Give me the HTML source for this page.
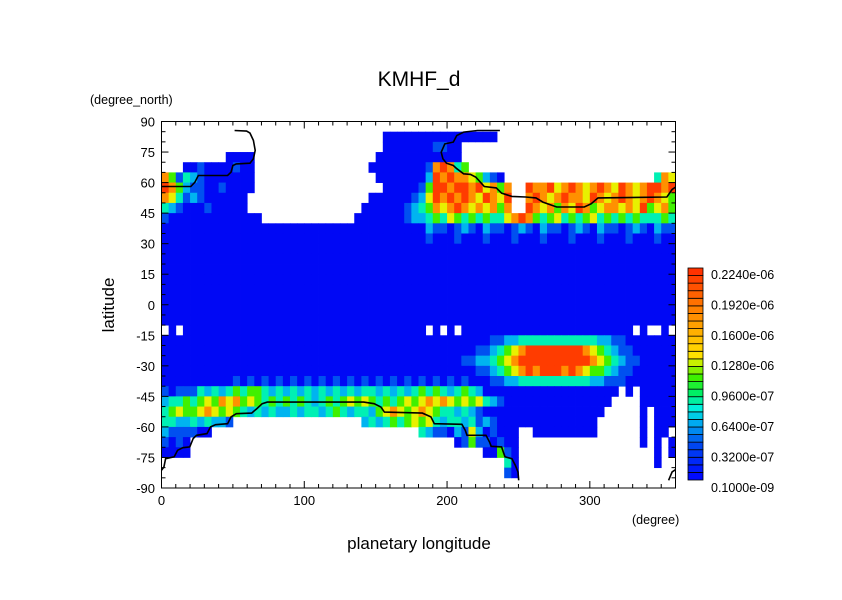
<!DOCTYPE html>
<html><head><meta charset="utf-8"><style>
html,body{margin:0;padding:0;background:#fff;}
svg text{font-family:"Liberation Sans",sans-serif;fill:#000;}
</style></head><body>
<svg id="chart" width="842" height="595" viewBox="0 0 842 595" xmlns="http://www.w3.org/2000/svg">
<rect width="842" height="595" fill="#fff"/>
<g id="heat"></g>
<g id="lines"></g>
<g id="axes"></g>
<g id="cbar"></g>
<text x="419" y="86" font-size="21" text-anchor="middle">KMHF_d</text>
<text x="90" y="104" font-size="12.5">(degree_north)</text>
<text transform="translate(114,305) rotate(-90)" font-size="17" text-anchor="middle">latitude</text>
<text x="632" y="524" font-size="12.5">(degree)</text>
<text x="419" y="549" font-size="17" text-anchor="middle">planetary longitude</text>
</svg>
<script>
// grid rows from lat 90 (top) to -90, 5 deg each; columns lon 0..360, 5 deg each
// '.' = missing, 0..7 = color level
const rowsData = [
'.'.repeat(72),
'.'.repeat(31)+'0'.repeat(16)+'.'.repeat(25),
'.'.repeat(31)+'00000001100'+'.'.repeat(30),
'.'.repeat(9)+'0000'+'.'.repeat(17)+'0'.repeat(12)+'.'.repeat(30),
'...'+'0010000100'+'.'.repeat(16)+'00000000'+'16763'+'4'+'.'.repeat(29),
'641'+'3210000000'+'.'.repeat(17)+'0000000'+'2'+'7676'+'654'+'210'+'.'.repeat(21)+'365',
'764'+'2110010'+'000'+'.'.repeat(18)+'000001'+'4'+'7767'+'767564'+'6..76'+'6756765676576567'+'767',
'653'+'1210000'+'00'+'.'.repeat(17)+'00'+'000012'+'57676765765'+'7'+'..6'+'76567665765676567'+'654',
'321'+'000100000'+'.'.repeat(16)+'000'+'000123'+'46567656564'+'6'+'..'+'7'+'65646576456656574'+'564',
'100000000000'+'00'+'.'.repeat(13)+'0'+'000000122'+'34354343433'+'5'+'676'+'43453434534343433'+'343',
'0'.repeat(37)+'21101210211012102110121021101210211',
'0'.repeat(37)+'10001000100010001000100010001000100',
'0'.repeat(72),
'0'.repeat(72),
'0'.repeat(72),
'0'.repeat(72),
'0'.repeat(72),
'0'.repeat(72),
'0'.repeat(72),
'0'.repeat(72),
'.0.0'+'0'.repeat(33)+'.0.0.'+'0'.repeat(24)+'.0..0.',
'0'.repeat(46)+'1122333333333332211'+'0'.repeat(7),
'0'.repeat(44)+'11'+'2345677777777654321'+'1000000',
'0'.repeat(42)+'1122'+'3456777777777765432'+'110'+'0000',
'0'.repeat(44)+'11'+'2345676777676544321'+'10'+'00000',
'0'.repeat(10)+'1010101010101010101010101010101010'+'00'+'1122333333333322111'+'0'.repeat(7),
'1011'+'13232343443232323232323233232323434323432'+'0'.repeat(18)+'0.0.0'+'0000',
'2334'+'34546564543434343234345454343454565654545'+'321'+'0'.repeat(14)+'0....0'+'0000',
'3454'+'4565454323'+'23223233234323'+'324565456543'+'32321'+'0'.repeat(17)+'.....'+'0.000',
'3322'+'323221'+'.'.repeat(18)+'23234345'+'45323'+'3231'+'21000'+'0'.repeat(11)+'......'+'0.000',
'2111'+'100'+'.'.repeat(29)+'32110'+'2152'+'010'+'00'+'..'+'0'.repeat(9)+'......'+'0.00.',
'1010'+'.'.repeat(37)+'0141'+'101'+'00'+'.'.repeat(17)+'0.0.0',
'0000'+'.'.repeat(41)+'004'+'10'+'.'.repeat(18)+'.0.0',
'.'.repeat(48)+'30'+'.'.repeat(18)+'.0..',
'.'.repeat(48)+'10'+'.'.repeat(22),
'.'.repeat(72)
];
// contour lines (lon, lat)
const northLon1 = [0,20.5,23.4,25.8,46.3,48.7,50,52.4,62,64.4,65.6,64.4,62,59.6,51.2];
const northLat1 = [58.1,58.1,60.2,63.5,63.5,65.1,68.4,69.2,69.5,71.7,75.8,80.7,84.3,85.3,85.6];
const northLon2 = [360,357.6,354,305.7,300.9,296.1,276.8,267.1,262.3,255,245.4,238.2,234.5,226.1,220.1,216.4,211.6,206.8,204.4,199.6,197.1,195.9,198.4,204.4,206.8,211.6,221.3,237];
const northLat2 = [57.8,56.6,52.9,52.5,49.6,48,48,50.4,52.5,52.9,53.2,54.8,57.4,58.1,62.7,64,64.3,66.8,68.4,69.5,71.7,74.9,79,79.9,83.1,84.8,85.6,85.6];
const southLon1 = [0,1.7,2.9,8.9,11.3,15,19.8,22.2,24.6,31.9,34.3,37.9,46.3,48.7,52.4,63.2,66.8,70.5,74.1,141.6,148.9,153.7,156.1,182.7,188.7,191.1,210.4,212.8,214,227.3,229.7,230.9,238.2,239.4,240.6,245.4,247.8,249.7,250.2];
const southLat1 = [-81.3,-79.7,-75.6,-74.7,-71.5,-70.2,-69.8,-65.7,-64.1,-63.3,-60,-58.9,-58.4,-55.1,-53.5,-53.2,-51,-48.6,-47.8,-47.8,-48.6,-50.2,-52.7,-53.2,-55.1,-58.4,-58.7,-61.7,-64.1,-64.1,-67.4,-69.5,-69.8,-72.3,-74.7,-75.6,-78.8,-82.1,-86.2];
const southLon2 = [355.2,357.6,360];
const southLat2 = [-86.2,-82.1,-81];
const xTicks = [0,100,200,300];
const yTicks = [90,75,60,45,30,15,0,-15,-30,-45,-60,-75,-90];
const cbarLabels = ['0.2240e-06','0.1920e-06','0.1600e-06','0.1280e-06','0.9600e-07','0.6400e-07','0.3200e-07','0.1000e-09'];

const NS='http://www.w3.org/2000/svg';
const X0=161.5, X1=675.5, Y0=121.5, Y1=488;
const xs = lon => X0 + (lon/360)*(X1-X0);
const ys = lat => Y0 + ((90-lat)/180)*(Y1-Y0);
const palette = ['#0008f5','#0050f0','#00b4f0','#00f0b4','#40f000','#e8f000','#ff9000','#ff3c00'];
function mk(tag, attrs, parent){const e=document.createElementNS(NS,tag);for(const k in attrs)e.setAttribute(k,attrs[k]);parent.appendChild(e);return e;}

const heat=document.getElementById('heat');
const nR=rowsData.length;
rowsData.forEach((row,r)=>{
  const nC=72;
  for(let c=0;c<nC;c++){
    const ch=row[c];
    if(ch===undefined||ch==='.')continue;
    const lonA=c*360/nC, lonB=(c+1)*360/nC;
    const latA=90-r*180/nR, latB=90-(r+1)*180/nR;
    const x=xs(lonA), y=ys(latA);
    const el=mk('rect',{x:x.toFixed(2),y:y.toFixed(2),width:(xs(lonB)-x+0.4).toFixed(2),height:(ys(latB)-y+0.4).toFixed(2),fill:palette[+ch]},heat);
    
    
  }
});

const lines=document.getElementById('lines');
[[northLon1,northLat1],[northLon2,northLat2],[southLon1,southLat1],[southLon2,southLat2]].forEach(([lo,la])=>{
  const d=lo.map((v,i)=>(i?'L':'M')+xs(v).toFixed(1)+','+ys(la[i]).toFixed(1)).join('');
  const p=mk('path',{d:d,fill:'none',stroke:'#000','stroke-width':1.6},lines);
  
  
});

const axes=document.getElementById('axes');
const frame=mk('rect',{x:X0,y:Y0,width:X1-X0,height:Y1-Y0,fill:'none',stroke:'#000','stroke-width':1},axes);


for(let lon=0;lon<=360;lon+=10){
  const L=(lon%100===0)?7:4, x=xs(lon);
  mk('line',{x1:x,y1:Y1,x2:x,y2:Y1-L,stroke:'#000'},axes);
  mk('line',{x1:x,y1:Y0,x2:x,y2:Y0+L,stroke:'#000'},axes);
}
for(let lat=-90;lat<=90;lat+=5){
  const L=(lat%15===0)?7:4, y=ys(lat);
  mk('line',{x1:X0,y1:y,x2:X0+L,y2:y,stroke:'#000'},axes);
  mk('line',{x1:X1,y1:y,x2:X1-L,y2:y,stroke:'#000'},axes);
}
xTicks.forEach(v=>{
  const t=mk('text',{x:xs(v),y:505,'font-size':13,'text-anchor':'middle'},axes);
  t.textContent=v;
  
  
});
yTicks.forEach(v=>{
  const t=mk('text',{x:155,y:ys(v)+5,'font-size':13,'text-anchor':'end'},axes);
  t.textContent=v;
  
  
});

// colorbar
const cbar=document.getElementById('cbar');
const anchors=[[0,[0,10,255]],[4,[0,70,240]],[7,[0,170,240]],[9,[0,240,220]],[11,[0,240,100]],[13,[60,240,0]],[15,[200,240,0]],[16,[255,225,0]],[20,[255,160,0]],[27,[255,50,0]]];
function segColor(i){
  for(let k=0;k<anchors.length-1;k++){
    const [a,ca]=anchors[k],[b,cb]=anchors[k+1];
    if(i>=a&&i<=b){const t=(i-a)/(b-a);return 'rgb('+ca.map((v,j)=>Math.round(v+(cb[j]-v)*t)).join(',')+')';}
  }
  return 'rgb(255,50,0)';
}
const CB0=268, CB1=480, nSeg=28, sh=(CB1-CB0)/nSeg;
for(let i=0;i<nSeg;i++){
  const s=mk('rect',{x:688,y:(CB1-(i+1)*sh).toFixed(2),width:15,height:sh.toFixed(2),fill:segColor(i),stroke:'#000','stroke-width':0.8},cbar);
  
  
}
cbarLabels.forEach((lab,i)=>{
  const t=mk('text',{x:711,y:279+i*30.4,'font-size':12.5},cbar);
  t.textContent=lab;
  
  
});
</script>
</body></html>
